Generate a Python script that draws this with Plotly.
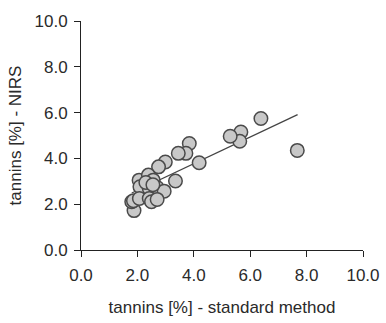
import plotly.graph_objects as go

x_std = [6.38, 7.67, 5.67, 5.63, 5.29, 3.84, 3.72, 3.45, 4.19, 2.99, 2.75, 3.35,
         2.06, 2.39, 2.56, 2.09, 2.42, 2.70, 2.95, 1.88, 1.80, 1.86, 2.07, 2.42,
         2.50, 2.70, 2.30, 2.55]
y_nirs = [5.74, 4.35, 5.15, 4.75, 4.97, 4.65, 4.22, 4.22, 3.81, 3.84, 3.63, 3.01,
          3.05, 3.27, 3.05, 2.76, 2.69, 2.73, 2.57, 1.72, 2.11, 2.15, 2.25, 2.25,
          2.11, 2.21, 2.95, 2.85]
fit_x = [1.80, 7.68]
fit_y = [2.49, 5.91]
tick_vals = [0, 2, 4, 6, 8, 10]
tick_text = ["0.0", "2.0", "4.0", "6.0", "8.0", "10.0"]

fig = go.Figure()
fig.add_trace(go.Scatter(x=fit_x, y=fit_y, mode="lines",
                         line=dict(color="#444444", width=1.3), showlegend=False))
fig.add_trace(go.Scatter(x=x_std, y=y_nirs, mode="markers",
                         marker=dict(size=13.5, color="#c8c8c8",
                                     line=dict(color="#4a4a4a", width=1.5)),
                         showlegend=False))

font = dict(family="Liberation Sans, Arial, sans-serif", size=17, color="#2a2a2a")
axis_common = dict(range=[0, 10], tickvals=tick_vals, ticktext=tick_text,
                   showgrid=False, zeroline=False, showline=True, automargin=False,
                   linecolor="#222222", linewidth=1, ticks="outside",
                   ticklen=6, tickcolor="#222222", tickfont=font)

fig.update_layout(
    width=386, height=323,
    margin=dict(l=81, r=23, t=21, b=73),
    paper_bgcolor="white", plot_bgcolor="white",
    font=font,
    xaxis=dict(**axis_common, title=dict(text="tannins [%] - standard method",
                                         font=font, standoff=16)),
    yaxis=dict(**axis_common, title=dict(text="tannins [%] - NIRS",
                                         font=font, standoff=8)),
)
fig.update_xaxes(ticklabelstandoff=4)
fig.update_yaxes(ticklabelstandoff=3)
fig.write_html("out.html")
